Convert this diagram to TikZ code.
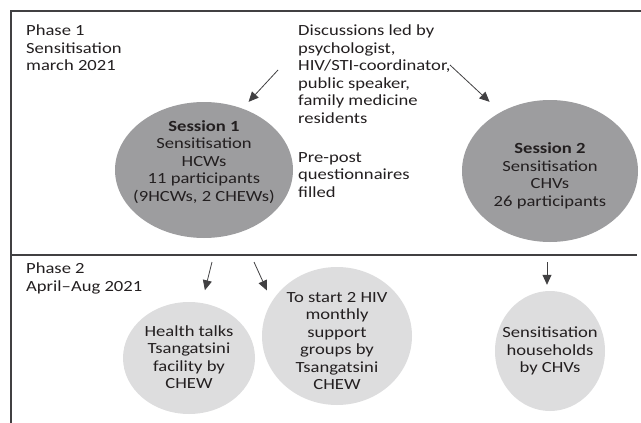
\documentclass[tikz,border=0pt]{standalone}
\usepackage{fontspec}
\setmainfont{Carlito}[FakeStretch=1.2]
\usepackage{tikz}
\usetikzlibrary{shapes.geometric, arrows.meta}
\definecolor{blobdark}{RGB}{157,157,159}
\definecolor{bloblight}{RGB}{221,221,222}
\definecolor{linegrey}{RGB}{65,64,66}
\definecolor{textgrey}{RGB}{35,31,32}
\tikzstyle{darkblob}  = [ellipse, fill=blobdark, inner sep=0pt]
\tikzstyle{lightblob} = [ellipse, fill=bloblight, inner sep=0pt]
\tikzstyle{blobtext}  = [align=center, inner sep=0pt, text=textgrey, font=\fontsize{15.5}{17.5}\selectfont]
\tikzstyle{note}      = [align=left, anchor=north west, inner sep=0pt, text=textgrey, font=\fontsize{15.5}{17.5}\selectfont]
\tikzstyle{divider}   = [line width=1.2pt, draw=linegrey]
\tikzstyle{arrow}     = [line width=0.8pt, draw=linegrey, -{Triangle[length=10pt,width=9pt]}]

\begin{document}
\begin{tikzpicture}[x=1pt, y=-1pt]
    \useasboundingbox (0,0) rectangle (641,423);

    % Frame and phase divider
    \draw [divider] (641,11) -- (11,11) -- (11,423);
    \draw [divider] (11,255) -- (637,255);

    % Nodes
    %% Phase 1
    \node (phase_one)        [note] at (26,25)   {Phase 1\\Sensitisation\\march 2021};
    \node (discussion_note)  [note] at (298,25)  {Discussions led by\\psychologist,\\HIV/STI-coordinator,\\public speaker,\\family medicine\\residents};
    \node (questionnaires)   [note] at (298,152) {Pre-post\\questionnaires\\filled};
    \node (session_one)      [darkblob, minimum width=178pt, minimum height=136pt] at (204,170) {};
    \node (session_one_text) [blobtext] at (204,162) {\textbf{Session 1}\\Sensitisation\\HCWs\\11 participants\\(9HCWs, 2 CHEWs)};
    \node (session_two)      [darkblob, minimum width=176pt, minimum height=142pt] at (550,171) {};
    \node (session_two_text) [blobtext] at (550,176) {\textbf{Session 2}\\Sensitisation\\CHVs\\26 participants};
    %% Phase 2
    \node (phase_two)        [note] at (26,263)  {Phase 2\\April--Aug 2021};
    \node (health_talks)     [lightblob, minimum width=132pt, minimum height=112pt] at (189,358) {};
    \node (health_talks_text)[blobtext] at (189,357) {Health talks\\Tsangatsini\\facility by\\CHEW};
    \node (support_groups)   [lightblob, minimum width=150pt, minimum height=138pt] at (337,336) {};
    \node (support_groups_text) [blobtext] at (337,341) {To start 2 HIV\\monthly\\support\\groups by\\Tsangatsini\\CHEW};
    \node (households)       [lightblob, minimum width=110pt, minimum height=120pt] at (550,351) {};
    \node (households_text)  [blobtext] at (550,351) {Sensitisation\\households\\by CHVs};

    % Arrows
    \coordinate (disc_left)   at (278,70);
    \coordinate (disc_right)  at (450,65);
    \coordinate (talks_start) at (212,262);
    \coordinate (group_start) at (254,262);
    \coordinate (house_start) at (547,262);
    \draw [arrow, shorten >=9pt]  (disc_left)   -- (session_one.58);
    \draw [arrow, shorten >=15pt] (disc_right)  -- (session_two.130);
    \draw [arrow, shorten >=13pt] (talks_start) -- (health_talks.77);
    \draw [arrow, shorten >=12pt] (group_start) -- (support_groups.152);
    \draw [arrow, shorten >=6pt]  (house_start) -- (house_start |- households.north);
\end{tikzpicture}
\end{document}
